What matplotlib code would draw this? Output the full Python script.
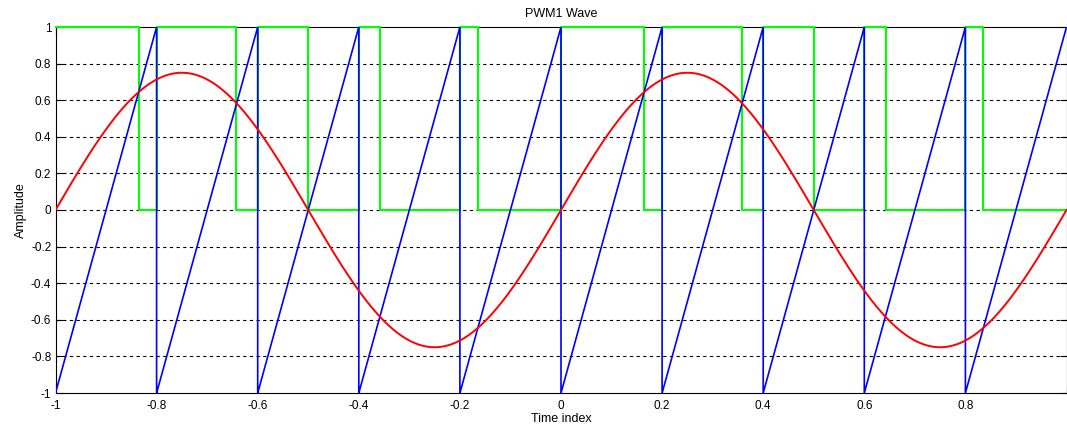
import numpy as np
import matplotlib
matplotlib.use("Agg")
import matplotlib.pyplot as plt

plt.rcParams['font.family'] = ['Liberation Sans', 'DejaVu Sans']

# carrier: sawtooth corners (rise from -1 to 1 over each 0.2 step, then drop)
saw_t = [-1.0, -0.8, -0.8, -0.6, -0.6, -0.4, -0.4, -0.2, -0.2, 0.0,
         0.0, 0.2, 0.2, 0.4, 0.4, 0.6, 0.6, 0.8, 0.8, 1.0]
saw_y = [-1, 1, -1, 1, -1, 1, -1, 1, -1, 1,
         -1, 1, -1, 1, -1, 1, -1, 1, -1, 1]

# reference sine
sine_amp = 0.75
sine_freq = 1.0

# PWM switching instants and the level held after each one
pwm_t = [-1.0, -0.835, -0.8, -0.642, -0.6, -0.5, -0.4, -0.358, -0.2, -0.165,
         0.0, 0.165, 0.2, 0.358, 0.4, 0.5, 0.6, 0.642, 0.8, 0.835, 1.0]
pwm_y = [1, 0, 1, 0, 1, 0, 1, 0, 1, 0,
         1, 0, 1, 0, 1, 0, 1, 0, 1, 0, 0]

yticks = [-1, -0.8, -0.6, -0.4, -0.2, 0, 0.2, 0.4, 0.6, 0.8, 1]
xticks = [-1, -0.8, -0.6, -0.4, -0.2, 0, 0.2, 0.4, 0.6, 0.8, 1]
# the "1" at the right end falls off the cropped image in the reference
xticklabels = ["-1", "-0.8", "-0.6", "-0.4", "-0.2", "0", "0.2", "0.4", "0.6", "0.8", ""]

t = np.linspace(-1, 1, 2001)
sine = sine_amp * np.sin(2 * np.pi * sine_freq * t)

fig = plt.figure(figsize=(10.67, 4.32), dpi=100)
ax = fig.add_axes([55.5 / 1067, 39 / 432, (1066.5 - 55.5) / 1067, (393 - 27) / 432])

ax.step(pwm_t, pwm_y, where='post', color=(0, 1, 0), lw=1.5, zorder=3, clip_on=False)
ax.plot(saw_t, saw_y, color=(0, 0, 1), lw=1.2, zorder=3.5)
ax.plot(t, sine, color=(1, 0, 0), lw=1.4, zorder=4)

ax.set_xlim(-1, 1)
ax.set_ylim(-1, 1)
ax.set_xticks(xticks)
ax.set_yticks(yticks)
ax.set_xticklabels(xticklabels)
ax.set_yticklabels([f"{v:g}" for v in yticks])

for v in yticks[1:-1]:
    ax.axhline(v, color='black', lw=0.8, dashes=(3, 3), zorder=1)

ax.tick_params(direction='in', length=5, width=0.8, labelsize=8.5,
               top=True, right=True, colors='black')
ax.tick_params(axis='x', pad=5)
ax.tick_params(axis='y', pad=3)
for s in ax.spines.values():
    s.set_linewidth(0.8)

ax.set_title("PWM1 Wave", fontsize=9, pad=7)
ax.set_xlabel("Time index", fontsize=9, labelpad=1)
ax.set_ylabel("Amplitude", fontsize=9, labelpad=3)

fig.savefig("out.png", dpi=100)
